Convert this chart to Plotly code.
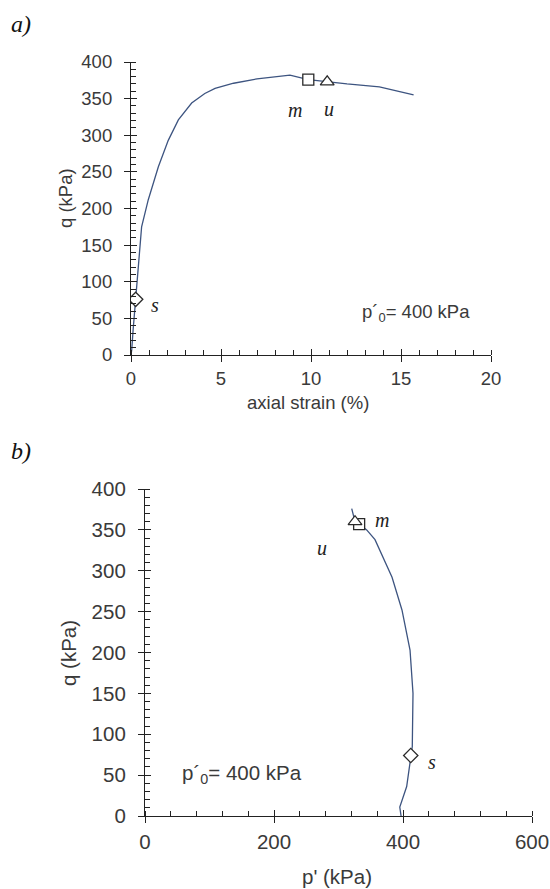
import plotly.graph_objects as go

# ---- panel a: deviator stress vs axial strain ----
strain_a = [0, 0.04, 0.12, 0.26, 0.41, 0.59, 0.96, 1.52, 2.07, 2.63, 3.37, 4.1, 4.67,
            5.7, 7.0, 8.0, 8.83, 9.85, 10.9, 12.0, 13.8, 15.7]
q_a = [0, 7, 35, 76, 130, 175, 212, 257, 293, 321, 344, 357, 364,
       371, 377, 380, 382, 376, 373, 370, 366, 355]

# characteristic points (s, m, u) on the stress-strain curve
pt_strain_s, pt_q_s = 0.26, 76
pt_strain_m, pt_q_m = 9.85, 376
pt_strain_u, pt_q_u = 10.9, 373

# ---- panel b: stress path in p'-q plane ----
p_b = [397, 395, 405.7, 412, 414.4, 415.5, 410.9, 398.4, 383, 356.6, 343.7, 332, 325.6, 320.5]
q_b = [0, 11, 36, 74, 85, 150, 203, 252, 292, 338, 350, 357, 360, 376]

pt_p_s, pt_qb_s = 412, 74
pt_p_m, pt_qb_m = 332, 357
pt_p_u, pt_qb_u = 325.6, 360

W, H = 550, 889
LINE = "#3d5480"
AX = "#222222"
TXT = "#3a3a3a"
SANS = "Liberation Sans, Arial, sans-serif"
SERIF = "Liberation Serif, Times New Roman, serif"

def px(x):
    return x / W

def py(y):
    return 1 - y / H

fig = go.Figure()

# curves
fig.add_trace(go.Scatter(x=strain_a, y=q_a, mode="lines", xaxis="x", yaxis="y",
                         line=dict(color=LINE, width=1.3), showlegend=False))
fig.add_trace(go.Scatter(x=p_b, y=q_b, mode="lines", xaxis="x2", yaxis="y2",
                         line=dict(color=LINE, width=1.3), showlegend=False))

mk = dict(color="white", line=dict(color="#2a2a2a", width=1.3))
# markers on panel a
fig.add_trace(go.Scatter(x=[pt_strain_s], y=[pt_q_s], mode="markers", xaxis="x", yaxis="y",
                         marker=dict(symbol="diamond", size=11, **mk), showlegend=False))
fig.add_trace(go.Scatter(x=[pt_strain_m], y=[pt_q_m], mode="markers", xaxis="x", yaxis="y",
                         marker=dict(symbol="square", size=11, **mk), showlegend=False))
fig.add_trace(go.Scatter(x=[pt_strain_u], y=[pt_q_u], mode="markers", xaxis="x", yaxis="y",
                         marker=dict(symbol="triangle-up", size=12, **mk), showlegend=False))
# markers on panel b
fig.add_trace(go.Scatter(x=[pt_p_s], y=[pt_qb_s], mode="markers", xaxis="x2", yaxis="y2",
                         marker=dict(symbol="diamond", size=11, **mk), showlegend=False))
fig.add_trace(go.Scatter(x=[pt_p_m], y=[pt_qb_m], mode="markers", xaxis="x2", yaxis="y2",
                         marker=dict(symbol="square", size=11, **mk), showlegend=False))
fig.add_trace(go.Scatter(x=[pt_p_u], y=[pt_qb_u], mode="markers", xaxis="x2", yaxis="y2",
                         marker=dict(symbol="triangle-up", size=12, **mk), showlegend=False))

# empty traces carrying the overlay axes (inner half of the major ticks)
fig.add_trace(go.Scatter(x=[], y=[], xaxis="x3", yaxis="y3", showlegend=False))
fig.add_trace(go.Scatter(x=[], y=[], xaxis="x4", yaxis="y4", showlegend=False))

dom_xa = [px(131), px(491)]
dom_ya = [py(355), py(62)]
dom_xb = [px(145), px(532)]
dom_yb = [py(816), py(489)]

def main_axis(rng, dom, anchor, dtick, minor_dtick, size, standoff):
    return dict(range=rng, domain=dom, anchor=anchor, dtick=dtick, tick0=0,
                showline=True, linecolor=AX, linewidth=1.2,
                ticks="outside", ticklen=6, tickwidth=1.2, tickcolor=AX,
                minor=dict(dtick=minor_dtick, tick0=0, ticks="inside", ticklen=5,
                           tickwidth=1.1, tickcolor=AX, showgrid=False),
                showgrid=False, zeroline=False, automargin=False,
                tickfont=dict(family=SANS, size=size, color=TXT),
                ticklabelstandoff=standoff, fixedrange=True)

def overlay_axis(rng, over, anchor, dtick):
    return dict(range=rng, overlaying=over, anchor=anchor, dtick=dtick, tick0=0,
                showline=False, ticks="inside", ticklen=6, tickwidth=1.2, tickcolor=AX,
                showticklabels=False, showgrid=False, zeroline=False, automargin=False)

fig.update_layout(
    width=W, height=H,
    margin=dict(l=0, r=0, t=0, b=0),
    paper_bgcolor="white", plot_bgcolor="white",
    xaxis=main_axis([0, 20], dom_xa, "y", 5, 1, 18.5, 1),
    yaxis=main_axis([0, 400], dom_ya, "x", 50, 10, 18.5, 8),
    xaxis2=main_axis([0, 600], dom_xb, "y2", 200, 40, 20.5, 1),
    yaxis2=main_axis([0, 400], dom_yb, "x2", 50, 10, 20.5, 8),
    xaxis3=overlay_axis([0, 20], "x", "y", 5),
    yaxis3=overlay_axis([0, 400], "y", "x", 50),
    xaxis4=overlay_axis([0, 600], "x2", "y2", 200),
    yaxis4=overlay_axis([0, 400], "y2", "x2", 50),
)

ann = []

def label(text, x, y, xref, yref, dx, dy, size=20):
    ann.append(dict(text=text, x=x, y=y, xref=xref, yref=yref, xshift=dx, yshift=dy,
                    showarrow=False, font=dict(family=SERIF, size=size, color="#222"),
                    xanchor="center", yanchor="middle"))

# point labels
label("<i>s</i>", pt_strain_s, pt_q_s, "x", "y", 19, -6)
label("<i>m</i>", pt_strain_m, pt_q_m, "x", "y", -13, -30)
label("<i>u</i>", pt_strain_u, pt_q_u, "x", "y", 2, -27)
label("<i>s</i>", pt_p_s, pt_qb_s, "x2", "y2", 21, -6)
label("<i>m</i>", pt_p_m, pt_qb_m, "x2", "y2", 23, 4)
label("<i>u</i>", pt_p_u, pt_qb_u, "x2", "y2", -33, -26)

def paper_text(text, x, y, size, family, color=TXT, angle=0, xanchor="center"):
    ann.append(dict(text=text, x=px(x), y=py(y), xref="paper", yref="paper",
                    showarrow=False, textangle=angle, xanchor=xanchor, yanchor="middle",
                    font=dict(family=family, size=size, color=color)))

# panel letters
paper_text("<i>a)</i>", 21, 24, 24, SERIF, "#111")
paper_text("<i>b)</i>", 21, 451, 24, SERIF, "#111")

# axis titles
paper_text("q (kPa)", 65, 198, 18.5, SANS, angle=-90)
paper_text("axial strain (%)", 308, 403, 18.5, SANS)
paper_text("q (kPa)", 68, 653, 20.5, SANS, angle=-90)
paper_text("p' (kPa)", 337, 876, 20.5, SANS)

# initial mean effective stress
paper_text("p\u00b4<sub>0</sub>= 400 kPa", 360, 313, 18.5, SANS, xanchor="left")
paper_text("p\u00b4<sub>0</sub>= 400 kPa", 180, 774, 20.5, SANS, xanchor="left")

fig.update_layout(annotations=ann)

fig.write_html("out.html")
